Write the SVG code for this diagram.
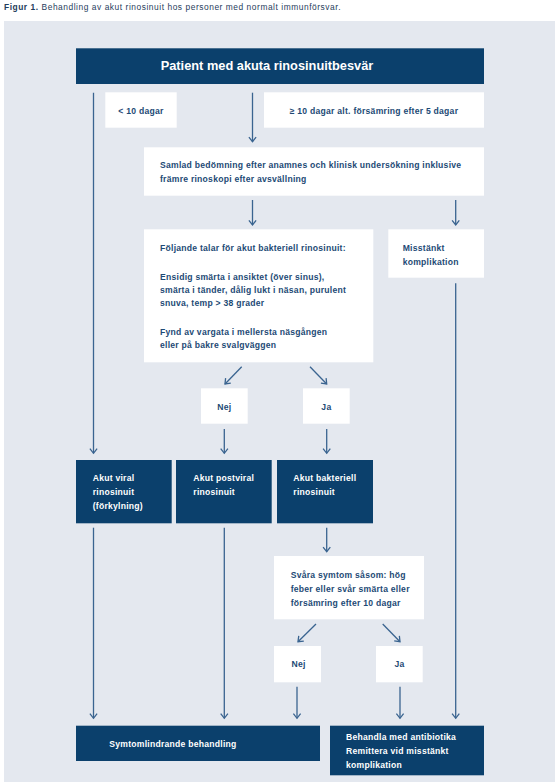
<svg xmlns="http://www.w3.org/2000/svg" width="555" height="782" viewBox="0 0 555 782">
<style>
.cap{font-family:"Liberation Sans",Arial,sans-serif;font-size:8.4px;letter-spacing:0.55px;fill:#1f3d5c}
.capb{font-weight:700}
.dk{fill:#0b406c}
.wt{fill:#ffffff}
.t{font-family:"Liberation Sans",Arial,sans-serif;font-size:8.6px;letter-spacing:0.25px;font-weight:700;fill:#1d4a75}
.tw{font-family:"Liberation Sans",Arial,sans-serif;font-size:8.6px;letter-spacing:0.25px;font-weight:700;fill:#ffffff}
.title{font-family:"Liberation Sans",Arial,sans-serif;font-size:12.8px;font-weight:700;fill:#ffffff}
.c{fill:none;stroke:#3a6490;stroke-width:1.3;marker-end:url(#a)}
</style>
<defs>
<marker id="a" markerWidth="12" markerHeight="12" refX="0" refY="0" orient="auto" markerUnits="userSpaceOnUse" overflow="visible">
<path d="M-4.6,-3.6 L0,0 L-4.6,3.6" fill="none" stroke="#3a6490" stroke-width="1.3"/>
</marker>
</defs>
<rect x="0" y="0" width="555" height="782" fill="#ffffff"/>
<text class="cap" x="4" y="10"><tspan class="capb">Figur 1.</tspan> Behandling av akut rinosinuit hos personer med normalt immunförsvar.</text>
<rect x="4" y="21" width="551" height="761" fill="#e4e8ef"/>

<g id="connectors">
<path class="c" d="M93.5,92.7 V453.3"/>
<path class="c" d="M252.5,92.7 V141.7"/>
<path class="c" d="M252.5,200 V225"/>
<path class="c" d="M455.7,200 V225"/>
<path class="c" d="M455.7,283.3 V718.3"/>
<path class="c" d="M241.7,366.7 L225,384"/>
<path class="c" d="M310,366.7 L326.7,384"/>
<path class="c" d="M224.3,429 V453.3"/>
<path class="c" d="M326.7,429 V453.3"/>
<path class="c" d="M93.5,527.7 V718.3"/>
<path class="c" d="M224.3,527.7 V718.3"/>
<path class="c" d="M326.7,527.7 V551.7"/>
<path class="c" d="M316,624 L298,641.7"/>
<path class="c" d="M382.7,624 L400,641.7"/>
<path class="c" d="M297,686.7 V718.3"/>
<path class="c" d="M400,686.7 V718.3"/>
</g>

<g id="n-patient">
<rect class="dk" x="76" y="48.3" width="408" height="35.7"/>
<text class="title" x="160.7" y="70">Patient med akuta rinosinuitbesvär</text>
</g>
<g id="n-lt10">
<rect class="wt" x="105.3" y="92.3" width="71.4" height="35.4"/>
<text class="t" x="141" y="113.7" text-anchor="middle">&lt; 10 dagar</text>
</g>
<g id="n-ge10">
<rect class="wt" x="264" y="92.3" width="220" height="35.4"/>
<text class="t" x="374" y="113.7" text-anchor="middle">≥ 10 dagar alt. försämring efter 5 dagar</text>
</g>
<g id="n-samlad">
<rect class="wt" x="144" y="147.3" width="340" height="48.4"/>
<text class="t" x="160" y="168">Samlad bedömning efter anamnes och klinisk undersökning inklusive</text>
<text class="t" x="160" y="182">främre rinoskopi efter avsvällning</text>
</g>
<g id="n-foljande">
<rect class="wt" x="144" y="229.3" width="229.3" height="133"/>
<text class="t" x="160" y="251.3">Följande talar för akut bakteriell rinosinuit:</text>
<text class="t" x="160" y="279.7">Ensidig smärta i ansiktet (över sinus),</text>
<text class="t" x="160" y="293">smärta i tänder, dålig lukt i näsan, purulent</text>
<text class="t" x="160" y="306.3">snuva, temp &gt; 38 grader</text>
<text class="t" x="160" y="334.7">Fynd av vargata i mellersta näsgången</text>
<text class="t" x="160" y="348">eller på bakre svalgväggen</text>
</g>
<g id="n-misstankt">
<rect class="wt" x="388.3" y="229.3" width="95.7" height="48.4"/>
<text class="t" x="402.7" y="251.3">Misstänkt</text>
<text class="t" x="402.7" y="265">komplikation</text>
</g>
<g id="n-nej1">
<rect class="wt" x="201" y="388.3" width="46.7" height="35.4"/>
<text class="t" x="224.3" y="410" text-anchor="middle">Nej</text>
</g>
<g id="n-ja1">
<rect class="wt" x="303" y="388.3" width="46.7" height="35.4"/>
<text class="t" x="326.4" y="410" text-anchor="middle">Ja</text>
</g>
<g id="n-viral">
<rect class="dk" x="76" y="460" width="95.7" height="63.3"/>
<text class="tw" x="92.7" y="481.3">Akut viral</text>
<text class="tw" x="92.7" y="495">rinosinuit</text>
<text class="tw" x="92.7" y="509">(förkylning)</text>
</g>
<g id="n-postviral">
<rect class="dk" x="176" y="460" width="95.7" height="63.3"/>
<text class="tw" x="193.3" y="481.3">Akut postviral</text>
<text class="tw" x="193.3" y="495">rinosinuit</text>
</g>
<g id="n-bakteriell">
<rect class="dk" x="277" y="460" width="96" height="63.3"/>
<text class="tw" x="293.3" y="481.3">Akut bakteriell</text>
<text class="tw" x="293.3" y="495">rinosinuit</text>
</g>
<g id="n-svara">
<rect class="wt" x="274" y="556" width="150" height="63.3"/>
<text class="t" x="290.7" y="578">Svåra symtom såsom: hög</text>
<text class="t" x="290.7" y="592">feber eller svår smärta eller</text>
<text class="t" x="290.7" y="605.7">försämring efter 10 dagar</text>
</g>
<g id="n-nej2">
<rect class="wt" x="274" y="646" width="47" height="36.3"/>
<text class="t" x="298.5" y="667.3" text-anchor="middle">Nej</text>
</g>
<g id="n-ja2">
<rect class="wt" x="376" y="646" width="46.7" height="36.3"/>
<text class="t" x="399.5" y="667.3" text-anchor="middle">Ja</text>
</g>
<g id="n-symtom">
<rect class="dk" x="76" y="725.7" width="244" height="35.3"/>
<text class="tw" x="109.3" y="747">Symtomlindrande behandling</text>
</g>
<g id="n-behandla">
<rect class="dk" x="330" y="725.7" width="154" height="49.6"/>
<text class="tw" x="346" y="740.3">Behandla med antibiotika</text>
<text class="tw" x="346" y="754.3">Remittera vid misstänkt</text>
<text class="tw" x="346" y="768.3">komplikation</text>
</g>
</svg>
